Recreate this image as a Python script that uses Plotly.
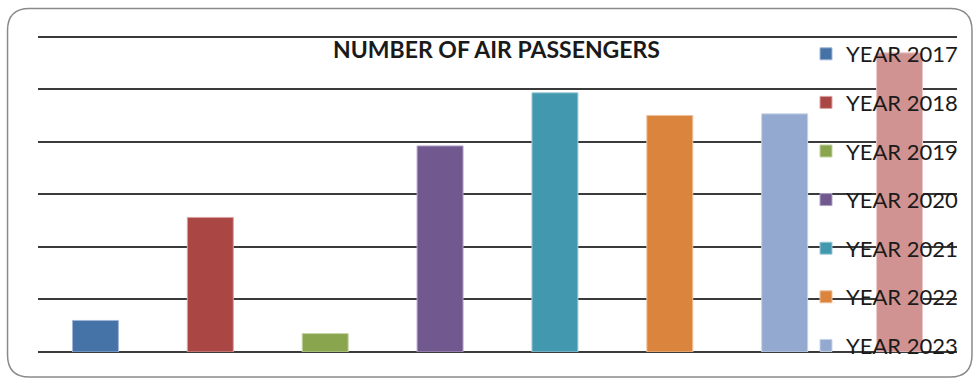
import plotly.graph_objects as go

years = ["2017", "2018", "2019", "2020", "2021", "2022", "2023", "2024"]
labels = ["YEAR 2017", "YEAR 2018", "YEAR 2019", "YEAR 2020", "YEAR 2021", "YEAR 2022", "YEAR 2023", "YEAR 2024"]
values = [0.60, 2.56, 0.35, 3.92, 4.93, 4.50, 4.53, 5.69]
colors = ["#4572A7", "#AA4643", "#89A54E", "#71588F", "#4198AF", "#DB843D", "#93A9CF", "#D19392"]
edge = ["#9fb5d6", "#d9a3a1", "#c3d3a4", "#b3a5c8", "#a0cbd7", "#edc19e", "#c9d4e7", "#e8c9c8"]
in_legend = [True, True, True, True, True, True, True, False]

W, H = 975, 379
ML, MR, MT, MB = 38, 17, 35, 27
PW, PH = W - ML - MR, H - MT - MB

fig = go.Figure()
for yr, lab, v, c, e, show in zip(years, labels, values, colors, edge, in_legend):
    fig.add_trace(go.Bar(
        x=[yr], y=[v], name=lab, width=0.4,
        marker=dict(color=c, line=dict(color=e, width=1)),
        legendgroup=lab, showlegend=show,
    ))

def px(x):
    return (x - ML) / PW

def py(y):
    return (H - MB - y) / PH

# rounded chart border (pixel coords -> paper coords)
x0, y0, x1, y1, r = 7.5, 8.5, 973, 377, 22
pts = [
    ("M", x0 + r, y0),
    ("L", x1 - r, y0),
    ("Q", x1, y0, x1, y0 + r),
    ("L", x1, y1 - r),
    ("Q", x1, y1, x1 - r, y1),
    ("L", x0 + r, y1),
    ("Q", x0, y1, x0, y1 - r),
    ("L", x0, y0 + r),
    ("Q", x0, y0, x0 + r, y0),
]
path = ""
for p in pts:
    cmd = p[0]
    coords = p[1:]
    s = []
    for i in range(0, len(coords), 2):
        s.append(f"{px(coords[i]):.5f},{py(coords[i+1]):.5f}")
    path += cmd + " ".join(s) + " "
path += "Z"

fig.add_shape(type="path", path=path, xref="paper", yref="paper",
              line=dict(color="#8a8a8a", width=1.5), layer="below")

fig.update_layout(
    width=W, height=H,
    margin=dict(l=ML, r=MR, t=MT, b=MB),
    paper_bgcolor="white", plot_bgcolor="white",
    barmode="overlay",
    showlegend=True,
    title=dict(text="<b>NUMBER OF AIR PASSENGERS</b>", x=px(497), xref="paper", xanchor="center",
               y=1 - 50 / H, yanchor="middle",
               font=dict(family="Lato", size=23, color="#1a1a1a")),
    legend=dict(x=px(806), y=py(33), xanchor="left", yanchor="top",
                bgcolor="rgba(0,0,0,0)", tracegroupgap=17, maxheight=H,
                font=dict(family="Lato", size=22, color="#1a1a1a"),
                itemclick=False, itemdoubleclick=False),
    xaxis=dict(type="category", showticklabels=False, showgrid=False, zeroline=False,
               showline=False, ticks="", range=[-0.5, 7.5]),
    yaxis=dict(range=[0, 6.03], dtick=1, showticklabels=False, ticks="",
               showgrid=True, gridcolor="#3a3a3a", gridwidth=1.6,
               zeroline=True, zerolinecolor="#3a3a3a", zerolinewidth=1.6,
               showline=False),
)

fig.write_html("out.html")
